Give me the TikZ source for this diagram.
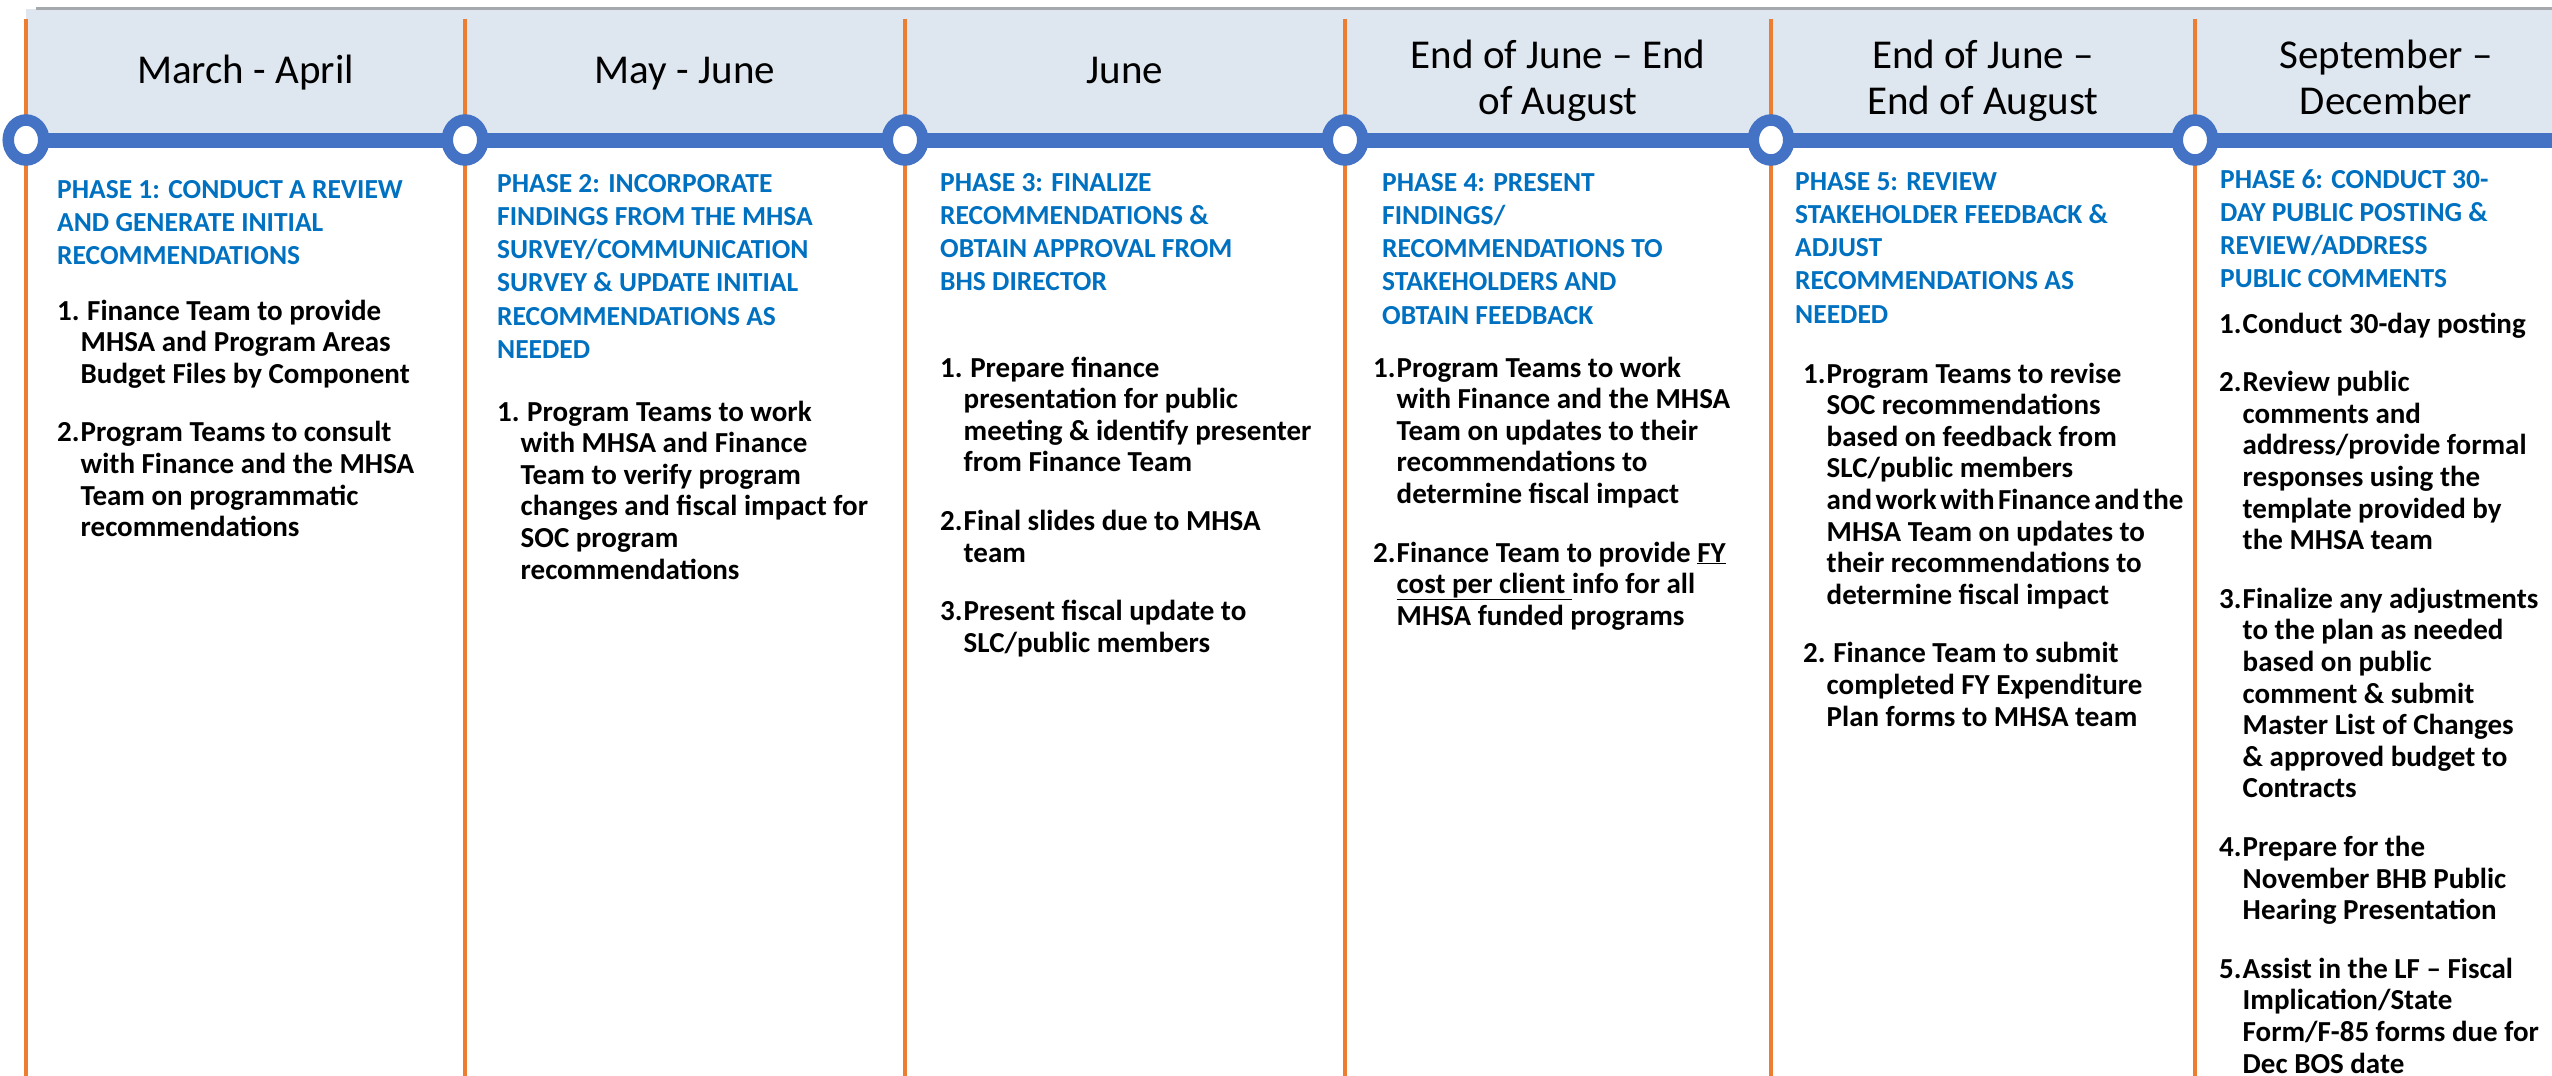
\documentclass[tikz,border=0pt]{standalone}
\usepackage{fontspec}
\setmainfont{Carlito}
\usetikzlibrary{shapes.geometric}
\definecolor{bandgray}{HTML}{DEE6EF}
\definecolor{rulegray}{HTML}{A5A8AC}
\definecolor{tlorange}{HTML}{ED7D31}
\definecolor{tlblue}{HTML}{4472C4}
\definecolor{phaseblue}{HTML}{0070C0}
\begin{document}
\begin{tikzpicture}[x=1pt,y=-1pt,
  hdr/.style={font=\fontsize{41}{46}\selectfont,inner sep=0,anchor=base},
  phase/.style={font=\fontsize{27.5}{33.3}\selectfont\bfseries,text=phaseblue,inner sep=0,anchor=base west},
  steps/.style={font=\fontsize{29}{31.6}\selectfont\bfseries,inner sep=0,anchor=base west},
  ring/.style={ellipse,draw=tlblue,line width=11.5pt,fill=white,inner sep=0,minimum width=35.5pt,minimum height=40pt}]
\useasboundingbox (0,0) rectangle (2552,1076);
% header band
\fill[bandgray] (26,9) rectangle (2552,133);
\draw[rulegray,line width=3pt] (36,8.5) -- (2552,8.5);
% timeline
\foreach \i/\x in {1/26,2/465,3/905,4/1345,5/1771,6/2195} {
  \coordinate (top\i) at (\x,19);
  \coordinate (bot\i) at (\x,1076);
  \coordinate (p\i) at (\x,140);
}
\coordinate (tlend) at (2552,140);
\foreach \i in {1,...,6} \draw[tlorange,line width=4pt] (top\i) -- (bot\i);
\draw[tlblue,line width=15pt] (p1) -- (tlend);
\foreach \i in {1,...,6} \node[ring] (c\i) at (p\i) {};
% months
\node[hdr] (h1) at (245.5,83) {March - April};
\node[hdr] (h2) at (685,83) {May - June};
\node[hdr] (h3) at (1125,83) {June};
\node[hdr] (h4) at (1558,68) {\begin{tabular}[t]{@{}c@{}}End of June – End\\of August\end{tabular}};
\node[hdr] (h5) at (1983,68) {\begin{tabular}[t]{@{}c@{}}End of June –\\End of August\end{tabular}};
\node[hdr] (h6) at (2386,68) {\begin{tabular}[t]{@{}c@{}}September –\\December\end{tabular}};
% phases
\node[phase] (t1) at (57,198) {\begin{tabular}[t]{@{}l@{}}PHASE 1: CONDUCT A REVIEW\\AND GENERATE INITIAL\\RECOMMENDATIONS\end{tabular}};
\node[phase] (t2) at (497,192) {\begin{tabular}[t]{@{}l@{}}PHASE 2: INCORPORATE\\FINDINGS FROM THE MHSA\\SURVEY/COMMUNICATION\\SURVEY \& UPDATE INITIAL\\RECOMMENDATIONS AS\\NEEDED\end{tabular}};
\node[phase] (t3) at (940,191) {\begin{tabular}[t]{@{}l@{}}PHASE 3: FINALIZE\\RECOMMENDATIONS \&\\OBTAIN APPROVAL FROM\\BHS DIRECTOR\end{tabular}};
\node[phase] (t4) at (1382,191) {\begin{tabular}[t]{@{}l@{}}PHASE 4: PRESENT\\FINDINGS/\\RECOMMENDATIONS TO\\STAKEHOLDERS AND\\OBTAIN FEEDBACK\end{tabular}};
\node[phase] (t5) at (1795,190) {\begin{tabular}[t]{@{}l@{}}PHASE 5: REVIEW\\STAKEHOLDER FEEDBACK \&\\ADJUST\\RECOMMENDATIONS AS\\NEEDED\end{tabular}};
\node[phase] (t6) at (2220,188) {\begin{tabular}[t]{@{}l@{}}PHASE 6: CONDUCT 30-\\DAY PUBLIC POSTING \&\\REVIEW/ADDRESS\\PUBLIC COMMENTS\end{tabular}};
% steps
\node[steps] (s1) at (57,320) {\begin{tabular}[t]{@{}p{23.5pt}@{}l@{}}
1.&\ Finance Team to provide\\&MHSA and Program Areas\\&Budget Files by Component\\[27pt]
2.&Program Teams to consult\\&with Finance and the MHSA\\&Team on programmatic\\&recommendations\end{tabular}};
\node[steps] (s2) at (497,421) {\begin{tabular}[t]{@{}p{23.5pt}@{}l@{}}
1.&\ Program Teams to work\\&with MHSA and Finance\\&Team to verify program\\&changes and fiscal impact for\\&SOC program\\&recommendations\end{tabular}};
\node[steps] (s3) at (940,377) {\begin{tabular}[t]{@{}p{23.5pt}@{}l@{}}
1.&\ Prepare finance\\&presentation for public\\&meeting \& identify presenter\\&from Finance Team\\[27pt]
2.&Final slides due to MHSA\\&team\\[27pt]
3.&Present fiscal update to\\&SLC/public members\end{tabular}};
\node[steps] (s4) at (1373,377) {\begin{tabular}[t]{@{}p{23.5pt}@{}l@{}}
1.&Program Teams to work\\&with Finance and the MHSA\\&Team on updates to their\\&recommendations to\\&determine fiscal impact\\[27pt]
2.&Finance Team to provide \underline{FY}\\&\underline{cost per client\ }info for all\\&MHSA funded programs\end{tabular}};
\node[steps] (s5) at (1803,383) {\begin{tabular}[t]{@{}p{23.5pt}@{}l@{}}
1.&Program Teams to revise\\&SOC recommendations\\&based on feedback from\\&SLC/public members\\&\spaceskip=0.12em and work with Finance and the\\&MHSA Team on updates to\\&their recommendations to\\&determine fiscal impact\\[27pt]
2.&\ Finance Team to submit\\&completed FY Expenditure\\&Plan forms to MHSA team\end{tabular}};
\node[steps] (s6) at (2219,333) {\begin{tabular}[t]{@{}p{23.5pt}@{}l@{}}
1.&Conduct 30-day posting\\[27pt]
2.&Review public\\&comments and\\&address/provide formal\\&responses using the\\&template provided by\\&the MHSA team\\[27pt]
3.&Finalize any adjustments\\&to the plan as needed\\&based on public\\&comment \& submit\\&Master List of Changes\\&\& approved budget to\\&Contracts\\[27pt]
4.&Prepare for the\\&November BHB Public\\&Hearing Presentation\\[27pt]
5.&Assist in the LF – Fiscal\\&Implication/State\\&Form/F-85 forms due for\\&Dec BOS date\end{tabular}};
\end{tikzpicture}
\end{document}
